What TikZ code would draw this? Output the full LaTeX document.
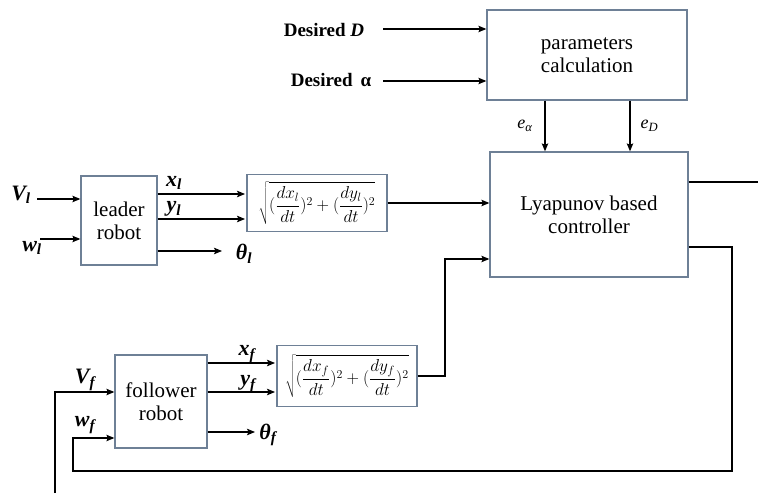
\documentclass[tikz,border=0pt]{standalone}
\usepackage{fontspec}
\setmainfont{Liberation Serif}
\usetikzlibrary{arrows.meta}
\definecolor{boxgray}{RGB}{110,128,150}
\newcommand{\sig}[2]{{\bfseries\itshape #1\textsubscript{#2}}}
\newcommand{\speed}[1]{$\displaystyle\sqrt{(\frac{dx_{#1}}{dt})^{2}+(\frac{dy_{#1}}{dt})^{2}}$}

\begin{document}
\begin{tikzpicture}[x=1pt,y=-1pt,>={Stealth[length=8pt,width=6.5pt,inset=1.5pt]},line width=1.1pt,
                    block node/.style={rectangle,draw=boxgray,line width=1.3pt,align=center,
                      font=\fontsize{21}{23}\selectfont,inner sep=0pt},
                    formula node/.style={block node,minimum width=140pt,font=\fontsize{18}{20}\selectfont},
                    sig node/.style={font=\fontsize{22}{24}\selectfont,inner sep=0pt},
                    err node/.style={font=\fontsize{18}{20}\selectfont\itshape,inner sep=0pt}]
  \useasboundingbox (0,0) rectangle (758,497);

  % blocks
  \node[block node,minimum width=200pt,minimum height=90pt] (param) at (587,55) {parameters\\calculation};
  \node[block node,minimum width=198pt,minimum height=125pt] (lyap) at (589,214.5) {Lyapunov based\\controller};
  \node[block node,minimum width=76pt,minimum height=89pt] (leader) at (119,220.5) {leader\\robot};
  \node[block node,minimum width=92pt,minimum height=93pt] (follower) at (161,401.5) {follower\\robot};
  \node[formula node,minimum height=57pt] (sqrtl) at (317,203) {\speed{l}};
  \node[formula node,minimum height=61pt] (sqrtf) at (347,376) {\speed{f}};

  % signal labels
  \node[font=\fontsize{19}{21}\selectfont\bfseries,inner sep=0pt] (desD) at (324,30) {Desired \textit{D}};
  \node[font=\fontsize{19}{21}\selectfont\bfseries,inner sep=0pt] (desA) at (331,80) {Desired\, α};
  \node[sig node] (Vl) at (21,195) {\sig{V}{l}};
  \node[sig node] (wl) at (32,248) {\sig{w}{l}};
  \node[sig node] (xl) at (174,183) {\sig{x}{l}};
  \node[sig node] (yl) at (174,209) {\sig{y}{l}};
  \node[sig node] (thl) at (244,254) {\sig{θ}{l}};
  \node[sig node] (Vf) at (85,380) {\sig{V}{f}};
  \node[sig node] (wf) at (85,425) {\sig{w}{f}};
  \node[sig node] (xf) at (247,354) {\sig{x}{f}};
  \node[sig node] (yf) at (248,384) {\sig{y}{f}};
  \node[sig node] (thf) at (268,435) {\sig{θ}{f}};

  % free ends and corners
  \coordinate (dIn) at (383,29);
  \coordinate (aIn) at (383,81);
  \coordinate (ea) at (545,0);
  \coordinate (eD) at (630,0);
  \coordinate (vlIn) at (37,199);
  \coordinate (wlIn) at (40,239);
  \coordinate (xlOut) at (245,194);
  \coordinate (ylOut) at (245,219);
  \coordinate (thlOut) at (222,251);
  \coordinate (xfOut) at (275,363);
  \coordinate (yfOut) at (275,392);
  \coordinate (thfOut) at (255,432);
  \coordinate (fJoin) at (445,259);
  \coordinate (uOut) at (758,182);
  \coordinate (fbRight) at (732,471);
  \coordinate (wfIn) at (73,438);
  \coordinate (vfEnd) at (55,493);

  \path[->]
    (dIn) edge (dIn -| param.west)
    (aIn) edge (aIn -| param.west)
    (param.south -| ea) edge node[err node,left=12pt] {e\textsubscript{α}} (lyap.north -| ea)
    (param.south -| eD) edge node[err node,right=10pt] {e\textsubscript{D}} (lyap.north -| eD)
    (vlIn) edge (vlIn -| leader.west)
    (wlIn) edge (wlIn -| leader.west)
    (leader.east |- xlOut) edge (xlOut)
    (leader.east |- ylOut) edge (ylOut)
    (leader.east |- thlOut) edge (thlOut)
    (follower.east |- xfOut) edge (xfOut)
    (follower.east |- yfOut) edge (yfOut)
    (follower.east |- thfOut) edge (thfOut)
    (sqrtl.east) edge (sqrtl.east -| lyap.west);

  \draw[->] (sqrtf.east) -| (fJoin) -- (fJoin -| lyap.west);
  \draw (lyap.east |- uOut) -- (uOut);
  \draw[->] (lyap.east |- 0,247) -| (fbRight) -| (wfIn) -- (wfIn -| follower.west);
  \draw[->] (vfEnd) |- (follower.west |- 0,392);
\end{tikzpicture}
\end{document}
